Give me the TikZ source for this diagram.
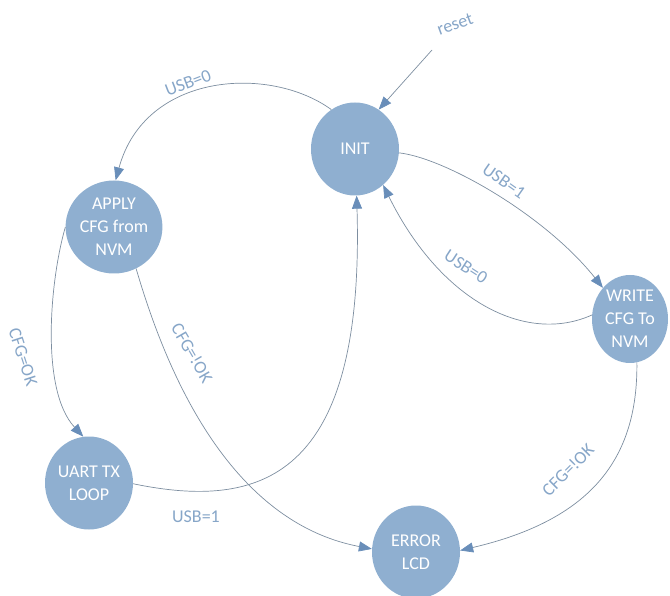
\documentclass[tikz,border=0pt]{standalone}
\usepackage{fontspec}
\setmainfont{Carlito}
\usetikzlibrary{shapes.geometric,arrows.meta}
\definecolor{nodefill}{RGB}{143,175,208}
\definecolor{linec}{RGB}{125,142,160}
\definecolor{arrowc}{RGB}{105,142,185}
\definecolor{labelc}{RGB}{135,166,200}
\begin{document}
\begin{tikzpicture}[x=1pt,y=-1pt,
  state/.style={ellipse,fill=nodefill,draw=none,text=white,inner sep=0pt,
    minimum width=88pt,minimum height=93pt,align=center,
    font=\fontsize{18}{23}\selectfont},
  trans/.style={draw=linec,line width=0.7pt,
    -{Triangle[length=13pt,width=10pt,color=arrowc,fill=arrowc]}},
  lbl/.style={text=labelc,inner sep=0pt,font=\fontsize{18}{22}\selectfont}]
\useasboundingbox (0,0) rectangle (670,596);
\node[state] (INIT) at (355,149) {INIT};
\node[state] (APPLY) at (114,227) {APPLY\\CFG from\\NVM};
\node[state,minimum width=76pt,minimum height=88pt] (WRITE) at (630,319) {WRITE\\CFG To\\NVM};
\node[state] (UART) at (89,483) {UART TX\\LOOP};
\node[state] (ERROR) at (416,552) {ERROR\\LCD};
\coordinate (rs) at (432,50);
% edges
\draw[trans] (rs) -- (INIT.59);
\draw[trans] (INIT.121) .. controls (270,65) and (145,72) .. (APPLY.88);
\draw[trans] (INIT.-5) .. controls (445,158) and (545,215) .. (WRITE.131);
\draw[trans] (WRITE.174) .. controls (525,345) and (440,300) .. (INIT.-52);
\draw[trans] (UART.-1) .. controls (260,510) and (365,480) .. (INIT.-88);
\draw[trans] (APPLY.180) .. controls (50,280) and (40,390) .. (UART.97);
\draw[trans] (APPLY.-62) .. controls (160,350) and (220,520) .. (ERROR.176);
\draw[trans] (WRITE.-81) .. controls (638,460) and (590,520) .. (ERROR.2);
% labels
\node[lbl,rotate=20] (lreset) at (455,24) {reset};
\node[lbl,rotate=21] (l1) at (188,83) {USB=0};
\node[lbl,rotate=-35] (l2) at (504,181) {USB=1};
\node[lbl,rotate=-33] (l3) at (466,267) {USB=0};
\node[lbl] (l4) at (196,517) {USB=1};
\node[lbl,rotate=-72] (l5) at (23,357) {CFG=OK};
\node[lbl,rotate=-60] (l6) at (192,353) {CFG=!OK};
\node[lbl,rotate=45] (l7) at (568,470) {CFG=!OK};
\end{tikzpicture}
\end{document}
